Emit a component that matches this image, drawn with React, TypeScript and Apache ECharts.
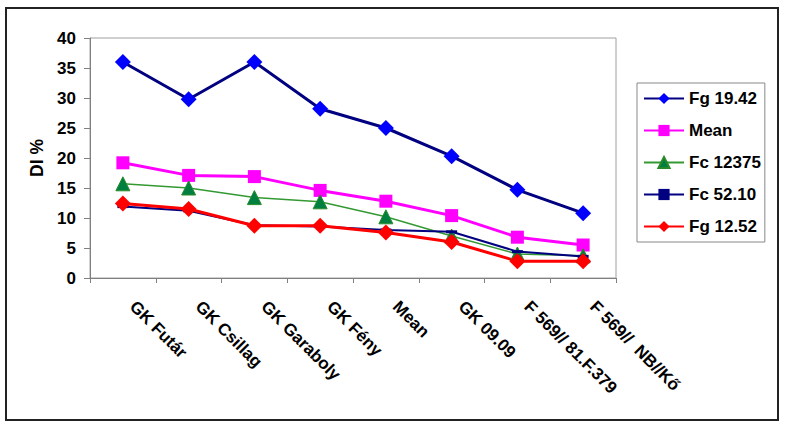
import React, { useEffect, useRef } from "react";
import * as echarts from "echarts";

const categories = [
  "GK Futár",
  "GK Csillag",
  "GK Garaboly",
  "GK Fény",
  "Mean",
  "GK 09.09",
  "F 569// 81.F.379",
  "F 569//  NB//Kő",
];
const fg1942 = [36, 29.8, 36, 28.2, 25, 20.3, 14.7, 10.8];
const meanVals = [19.2, 17.1, 16.9, 14.6, 12.8, 10.4, 6.8, 5.5];
const fc12375 = [15.7, 15.0, 13.4, 12.7, 10.2, 7.0, 4.0, 3.7];
const fc5210 = [11.9, 11.2, 8.8, 8.6, 8.0, 7.7, 4.4, 3.6];
const fg1252 = [12.4, 11.5, 8.7, 8.7, 7.6, 6.0, 2.8, 2.8];
const yTicks = [0, 5, 10, 15, 20, 25, 30, 35, 40];

const FONT = "'Liberation Sans', Arial, sans-serif";

export default function App() {
  const ref = useRef<HTMLDivElement>(null);
  useEffect(() => {
    if (!ref.current) return;
    const chart = echarts.init(ref.current, undefined, { renderer: "svg" });
    chart.setOption({
      animation: false,
      backgroundColor: "#ffffff",
      textStyle: { fontFamily: FONT },
      graphic: [
        {
          type: "rect",
          shape: { x: 6, y: 8, width: 772, height: 412 },
          style: { fill: "none", stroke: "#222", lineWidth: 2 },
          z: -1,
        },
      ],
      grid: {
        left: 90,
        right: 170,
        top: 38,
        bottom: 147,
        show: true,
        borderColor: "#a0a0a0",
        borderWidth: 1,
        backgroundColor: "transparent",
      },
      legend: {
        orient: "vertical",
        left: 637,
        top: 83,
        padding: [7, 4, 7, 6],
        itemGap: 15,
        itemWidth: 40,
        itemHeight: 14,
        borderColor: "#888",
        borderWidth: 1,
        textStyle: { fontFamily: FONT, fontWeight: "bold", fontSize: 17, color: "#000" },
        data: ["Fg 19.42", "Mean", "Fc 12375", "Fc 52.10", "Fg 12.52"],
      },
      xAxis: {
        type: "category",
        data: categories,
        boundaryGap: true,
        axisLine: { lineStyle: { color: "#808080", width: 1 } },
        axisTick: { show: true, length: 5, lineStyle: { color: "#808080" } },
        axisLabel: {
          rotate: -45,
          interval: 0,
          margin: 16,
          padding: [0, 0, 0, 14],
          fontFamily: FONT,
          fontWeight: "bold",
          fontSize: 17,
          color: "#000",
        },
        splitLine: { show: false },
      },
      yAxis: {
        type: "value",
        min: yTicks[0],
        max: yTicks[yTicks.length - 1],
        interval: 5,
        name: "DI %",
        nameLocation: "middle",
        nameRotate: 90,
        nameGap: 43,
        nameTextStyle: { fontFamily: FONT, fontWeight: "bold", fontSize: 17.5, color: "#000" },
        axisLine: { show: true, lineStyle: { color: "#808080", width: 1 } },
        axisTick: { show: true, length: 6, lineStyle: { color: "#808080" } },
        axisLabel: {
          margin: 14,
          fontFamily: FONT,
          fontWeight: "bold",
          fontSize: 17,
          color: "#000",
        },
        splitLine: { show: false },
      },
      series: [
        {
          name: "Fg 19.42",
          type: "line",
          data: fg1942,
          symbol: "diamond",
          symbolSize: 16,
          lineStyle: { color: "#000080", width: 3 },
          itemStyle: { color: "#0000ff" },
        },
        {
          name: "Mean",
          type: "line",
          data: meanVals,
          symbol: "rect",
          symbolSize: 13,
          lineStyle: { color: "#ff00ff", width: 3 },
          itemStyle: { color: "#ff00ff" },
        },
        {
          name: "Fc 12375",
          type: "line",
          data: fc12375,
          symbol: "triangle",
          symbolSize: 14,
          lineStyle: { color: "#339933", width: 1.5 },
          itemStyle: { color: "#008040", borderColor: "#2a8a2a", borderWidth: 1 },
        },
        {
          name: "Fc 52.10",
          type: "line",
          data: fc5210,
          symbol: "rect",
          symbolSize: [11, 3],
          lineStyle: { color: "#000080", width: 2 },
          itemStyle: { color: "#000080" },
        },
        {
          name: "Fg 12.52",
          type: "line",
          data: fg1252,
          symbol: "diamond",
          symbolSize: 16,
          lineStyle: { color: "#ff0000", width: 3 },
          itemStyle: { color: "#ff0000" },
        },
      ],
    });
    return () => chart.dispose();
  }, []);
  return (
    <div
      ref={ref}
      style={{ position: "absolute", left: 0, top: 0, width: 786, height: 425 }}
    />
  );
}
